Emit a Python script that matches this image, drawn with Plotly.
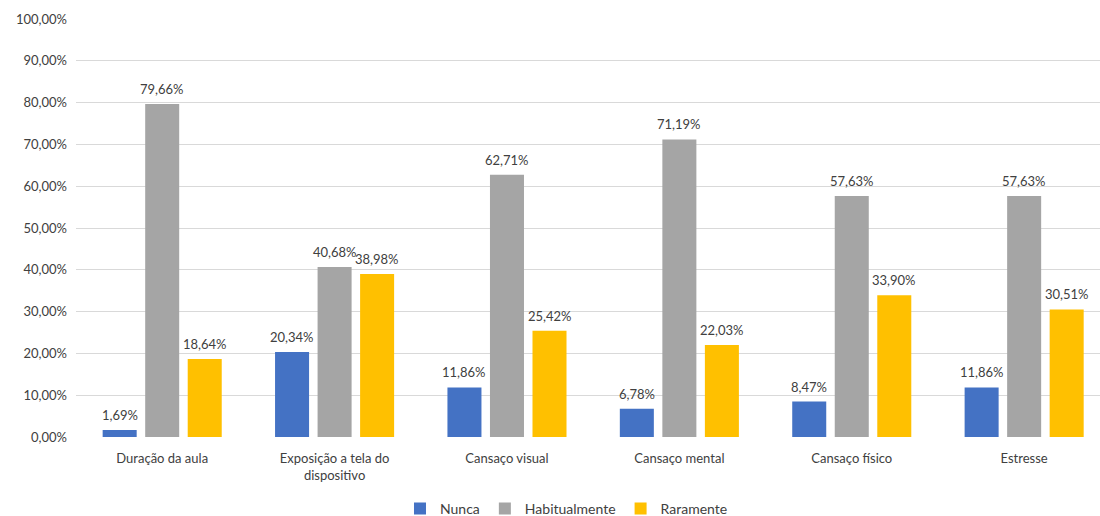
import plotly.graph_objects as go

categories = ["Duração da aula", "Exposição a tela do<br>dispositivo", "Cansaço visual",
              "Cansaço mental", "Cansaço físico", "Estresse"]
nunca = [0.0169, 0.2034, 0.1186, 0.0678, 0.0847, 0.1186]
habitualmente = [0.7966, 0.4068, 0.6271, 0.7119, 0.5763, 0.5763]
raramente = [0.1864, 0.3898, 0.2542, 0.2203, 0.3390, 0.3051]
y_ticks = [i / 10 for i in range(11)]

series = [("Nunca", nunca, "#4472C4"),
          ("Habitualmente", habitualmente, "#A5A5A5"),
          ("Raramente", raramente, "#FFC000")]

font_family = "Lato, 'Open Sans', sans-serif"
fig = go.Figure()
for i, (name, vals, color) in enumerate(series):
    fig.add_trace(go.Bar(
        x=list(range(len(categories))), y=vals, name=name,
        marker=dict(color=color, line=dict(width=0)),
        offsetgroup=str(i),
    ))

bargap, bargroupgap = 0.26, 0.2
slot = (1 - bargap) / len(series)
for i, (name, vals, color) in enumerate(series):
    for j, v in enumerate(vals):
        xpos = j - (1 - bargap) / 2 + slot * (i + 0.5)
        fig.add_annotation(
            x=xpos, y=v, xref="x", yref="y", text=f"{v*100:.2f}%".replace(".", ","),
            showarrow=False, yanchor="bottom", xanchor="center", yshift=5,
            font=dict(size=13, color="#404040", family=font_family),
        )

fig.update_layout(
    width=1100, height=516,
    margin=dict(l=76, r=0, t=19, b=79, autoexpand=False),
    paper_bgcolor="white", plot_bgcolor="white",
    separators=",.",
    barmode="group", bargap=bargap, bargroupgap=bargroupgap,
    font=dict(family=font_family, size=13, color="#404040"),
    showlegend=True,
    legend=dict(orientation="h", x=0.479, xanchor="center", yref="container", y=0.014,
                yanchor="middle",
                font=dict(size=14, color="#404040"), itemwidth=30, traceorder="normal"),
    xaxis=dict(tickmode="array", tickvals=list(range(len(categories))), ticktext=categories,
               range=[-0.5, 5.44], showgrid=False, zeroline=False, showline=False,
               ticks="", tickfont=dict(size=13, color="#404040"), automargin=False),
    yaxis=dict(range=[0, 1.0], tickvals=y_ticks, tickformat=".2%",
               showgrid=True, gridcolor="#D9D9D9", gridwidth=1, zeroline=False,
               showline=False, ticks="", ticklen=0, tickfont=dict(size=13, color="#404040"),
               automargin=False),
)
fig.update_yaxes(ticklabelstandoff=8)
fig.update_xaxes(ticklabelstandoff=12)
fig.write_html("out.html")
